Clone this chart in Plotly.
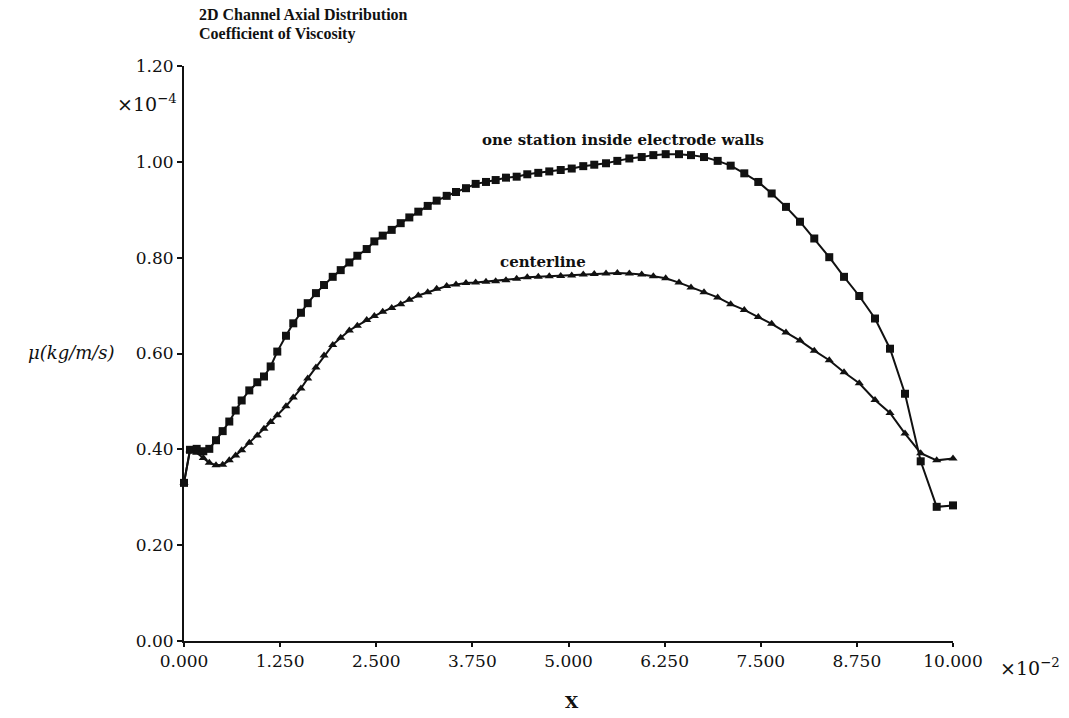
import plotly.graph_objects as go

# Axial stations (x, in units of 1e-2)
x_station = [
    0.000, 0.078, 0.165, 0.251, 0.329, 0.416, 0.503, 0.589, 0.672, 0.750,
    0.849, 0.953, 1.040, 1.127, 1.213, 1.326, 1.421, 1.521, 1.609, 1.716,
    1.821, 1.934, 2.038, 2.150, 2.254, 2.376, 2.475, 2.584, 2.701, 2.818,
    2.930, 3.047, 3.169, 3.286, 3.416, 3.537, 3.667, 3.793, 3.927, 4.053,
    4.187, 4.326, 4.464, 4.607, 4.750, 4.899, 5.042, 5.192, 5.335, 5.488,
    5.635, 5.791, 5.952, 6.103, 6.264, 6.437, 6.593, 6.762, 6.940, 7.109,
    7.286, 7.468, 7.642, 7.828, 8.010, 8.196, 8.391, 8.583, 8.781, 8.986,
    9.181, 9.376, 9.580, 9.788, 10.000,
]

# Viscosity one station inside the electrode walls (units of 1e-4 kg/m/s)
mu_wall = [
    0.330, 0.399, 0.401, 0.396, 0.401, 0.419, 0.438, 0.458, 0.481, 0.502,
    0.523, 0.540, 0.552, 0.573, 0.604, 0.637, 0.663, 0.685, 0.705, 0.726,
    0.743, 0.760, 0.774, 0.790, 0.804, 0.818, 0.834, 0.846, 0.858, 0.872,
    0.884, 0.896, 0.908, 0.919, 0.929, 0.937, 0.945, 0.954, 0.958, 0.962,
    0.967, 0.969, 0.974, 0.977, 0.980, 0.983, 0.986, 0.991, 0.994, 0.997,
    1.002, 1.007, 1.010, 1.014, 1.016, 1.016, 1.014, 1.010, 1.002, 0.992,
    0.976, 0.958, 0.934, 0.906, 0.875, 0.840, 0.801, 0.760, 0.720, 0.673,
    0.610, 0.516, 0.375, 0.280, 0.283,
]

# Viscosity on the channel centerline (units of 1e-4 kg/m/s)
mu_center = [
    0.330, 0.398, 0.393, 0.382, 0.372, 0.367, 0.368, 0.377, 0.387, 0.398,
    0.414, 0.429, 0.443, 0.457, 0.471, 0.490, 0.508, 0.527, 0.548, 0.571,
    0.596, 0.618, 0.633, 0.648, 0.658, 0.670, 0.678, 0.687, 0.695, 0.703,
    0.712, 0.721, 0.728, 0.735, 0.741, 0.744, 0.747, 0.748, 0.750, 0.751,
    0.753, 0.756, 0.759, 0.760, 0.761, 0.762, 0.763, 0.765, 0.766, 0.767,
    0.768, 0.767, 0.765, 0.761, 0.757, 0.748, 0.738, 0.728, 0.717, 0.703,
    0.691, 0.676, 0.662, 0.644, 0.627, 0.606, 0.586, 0.561, 0.538, 0.503,
    0.476, 0.433, 0.392, 0.377, 0.381,
]

x_ticks = [0, 1.25, 2.5, 3.75, 5.0, 6.25, 7.5, 8.75, 10.0]
x_tick_text = ["0.000", "1.250", "2.500", "3.750", "5.000", "6.250", "7.500", "8.750", "10.000"]
y_ticks = [0, 0.2, 0.4, 0.6, 0.8, 1.0, 1.2]
y_tick_text = ["0.00", "0.20", "0.40", "0.60", "0.80", "1.00", "1.20"]

title_lines = ["2D Channel Axial Distribution", "Coefficient of Viscosity"]

SERIF = "DejaVu Serif"
TITLE_SERIF = "Liberation Serif"
INK = "#111111"

fig = go.Figure()
fig.add_trace(go.Scatter(
    x=x_station, y=mu_wall, mode="lines+markers",
    line=dict(color=INK, width=2),
    marker=dict(symbol="square", size=8, color=INK),
    cliponaxis=False, showlegend=False,
))
fig.add_trace(go.Scatter(
    x=x_station, y=mu_center, mode="lines+markers",
    line=dict(color=INK, width=2),
    marker=dict(symbol="triangle-up", size=8, color=INK),
    cliponaxis=False, showlegend=False,
))

annotations = [
    dict(text=f"<b>{title_lines[0]}</b>",
         xref="paper", yref="paper", x=0.017, y=1.0904, xanchor="left", yanchor="middle",
         showarrow=False, font=dict(family=TITLE_SERIF, size=16, color=INK)),
    dict(text=f"<b>{title_lines[1]}</b>",
         xref="paper", yref="paper", x=0.017, y=1.0557, xanchor="left", yanchor="middle",
         showarrow=False, font=dict(family=TITLE_SERIF, size=16, color=INK)),
    dict(text="×10<sup>−4</sup>", xref="paper", yref="paper", x=-0.006, y=0.936,
         xanchor="right", yanchor="middle", showarrow=False,
         font=dict(family=SERIF, size=19, color=INK)),
    dict(text="×10<sup>−2</sup>", xref="paper", yref="paper", x=1.0585, y=-0.045,
         xanchor="left", yanchor="middle", showarrow=False,
         font=dict(family=SERIF, size=19, color=INK)),
    dict(text="<b>X</b>", xref="paper", yref="paper", x=0.5046, y=-0.106,
         xanchor="center", yanchor="middle", showarrow=False,
         font=dict(family=SERIF, size=17, color=INK)),
    dict(text="<i>μ(kg/m/s)</i>", xref="paper", yref="paper", x=-0.087, y=0.501,
         xanchor="right", yanchor="middle", showarrow=False,
         font=dict(family=SERIF, size=18, color=INK)),
    dict(text="<b>one station inside electrode walls</b>", x=5.71, y=1.046,
         xanchor="center", yanchor="middle", showarrow=False,
         font=dict(family=SERIF, size=15, color=INK)),
    dict(text="<b>centerline</b>", x=4.67, y=0.792,
         xanchor="center", yanchor="middle", showarrow=False,
         font=dict(family=SERIF, size=15, color=INK)),
]

fig.update_layout(
    width=1069, height=718,
    margin=dict(l=184, r=116, t=66, b=77, autoexpand=False),
    paper_bgcolor="white", plot_bgcolor="white",
    annotations=annotations,
    xaxis=dict(
        range=[0, 10], tickvals=x_ticks, ticktext=x_tick_text,
        showgrid=False, zeroline=False, showline=True, linecolor=INK, linewidth=2,
        ticks="outside", ticklen=4, tickwidth=2, tickcolor=INK,
        tickfont=dict(family=SERIF, size=17, color=INK),
    ),
    yaxis=dict(
        range=[0, 1.2], tickvals=y_ticks, ticktext=y_tick_text,
        showgrid=False, zeroline=False, showline=True, linecolor=INK, linewidth=2,
        ticks="outside", ticklen=5, tickwidth=2, tickcolor=INK,
        tickfont=dict(family=SERIF, size=17, color=INK),
    ),
)

fig.write_html("out.html")
